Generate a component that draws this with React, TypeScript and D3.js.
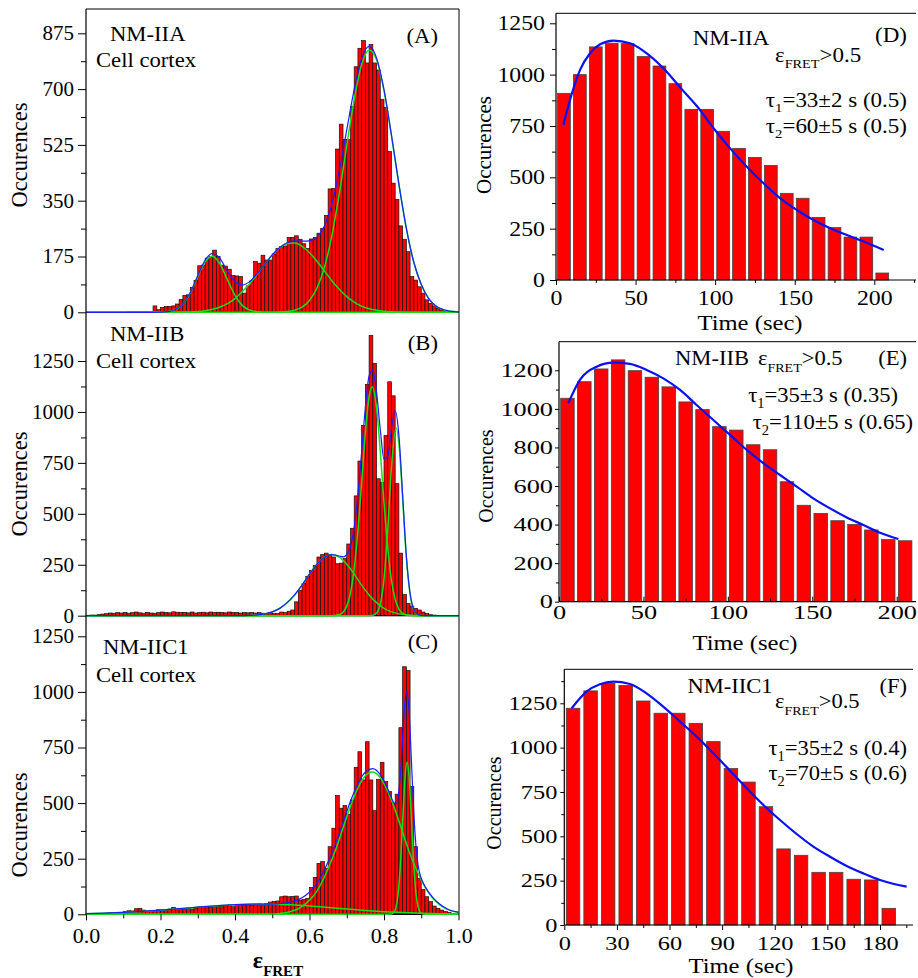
import React, { useEffect, useRef } from "react";
import * as d3 from "d3";

const SERIF = "'Liberation Serif', 'Times New Roman', Times, serif";

// ---- left column: FRET efficiency histograms (bin width 0.01) ----
const binWidth = 0.01;

const histA = [
  0, 0, 0, 0, 0, 0, 0, 0, 0, 0,
  0, 3, 3, 3, 3, 3, 3, 3, 20, 8,
  15, 18, 18, 20, 26, 40, 53, 55, 78, 100,
  146, 148, 170, 175, 195, 175, 148, 145, 135, 115,
  114, 112, 60, 83, 99, 159, 154, 179, 164, 164,
  183, 200, 206, 208, 235, 235, 240, 229, 215, 200,
  230, 235, 248, 263, 304, 387, 389, 512, 590, 542,
  542, 645, 770, 828, 852, 782, 840, 782, 760, 668,
  643, 504, 405, 354, 271, 229, 190, 112, 101, 80,
  60, 39, 28, 20, 13, 7, 4, 2, 2, 2,
];

const histB = [
  2, 3, 3, 5, 8, 10, 13, 12, 15, 13,
  16, 12, 15, 18, 14, 12, 16, 13, 12, 15,
  18, 16, 14, 19, 17, 15, 16, 14, 18, 13,
  15, 17, 14, 18, 16, 17, 15, 14, 18, 16,
  15, 13, 15, 14, 16, 13, 15, 12, 10, 14,
  12, 10, 18, 15, 22, 28, 68, 125, 158, 193,
  222, 247, 288, 300, 307, 300, 288, 255, 258, 280,
  352, 429, 588, 759, 934, 1135, 1376, 1238, 672, 653,
  884, 1148, 1079, 648, 307, 104, 60, 47, 36, 28,
  18, 11, 5, 3, 0, 0, 0, 0, 0, 0,
];

const histC = [
  2, 2, 3, 3, 4, 5, 7, 7, 9, 8,
  12, 16, 15, 25, 27, 19, 15, 18, 16, 22,
  20, 18, 24, 31, 27, 22, 25, 28, 24, 27,
  34, 30, 33, 31, 36, 37, 35, 40, 42, 34,
  40, 42, 42, 45, 41, 44, 47, 45, 49, 55,
  57, 60, 79, 82, 79, 80, 82, 64, 67, 72,
  121, 166, 229, 237, 207, 304, 387, 534, 477, 489,
  450, 514, 661, 731, 604, 776, 604, 466, 607, 683,
  597, 552, 500, 540, 839, 1113, 1096, 574, 304, 162,
  112, 79, 57, 37, 27, 19, 12, 9, 4, 2,
];

// fitted peaks (green) and their sum (blue)
const fitA1 = [[0, 0], [0.2, 0.5], [0.22, 2.3], [0.24, 8.7], [0.26, 26], [0.28, 61], [0.3, 112], [0.32, 159], [0.34, 176], [0.36, 151], [0.38, 101], [0.4, 53], [0.42, 21], [0.44, 6.8], [0.46, 1.7], [0.48, 0.3], [0.5, 0], [1, 0]];
const fitA2 = [[0, 0], [0.24, 0.3], [0.26, 0.6], [0.28, 1.3], [0.3, 2.6], [0.32, 5.1], [0.34, 9.4], [0.36, 16.6], [0.38, 27], [0.4, 43], [0.42, 65], [0.44, 90], [0.46, 120], [0.48, 151], [0.5, 180], [0.52, 202], [0.54, 216], [0.56, 217], [0.58, 207], [0.6, 187], [0.62, 160], [0.64, 130], [0.66, 99], [0.68, 72], [0.7, 49], [0.72, 32], [0.74, 19], [0.76, 11], [0.78, 6.1], [0.8, 3.2], [0.82, 1.6], [0.84, 0.7], [0.86, 0.3], [0.9, 0], [1, 0]];
const fitA3 = [[0, 0], [0.48, 0], [0.5, 0.2], [0.52, 0.8], [0.54, 2.4], [0.56, 6.5], [0.58, 16], [0.6, 37], [0.62, 76], [0.64, 141], [0.66, 240], [0.68, 372], [0.7, 523], [0.72, 667], [0.74, 777], [0.76, 823], [0.78, 792], [0.8, 695], [0.82, 554], [0.84, 401], [0.86, 263], [0.88, 157], [0.9, 87], [0.92, 43], [0.94, 19], [0.96, 7.8], [0.98, 3], [1, 1]];
const sumA = [[0, 0], [0.18, 0], [0.2, 0.5], [0.22, 2.4], [0.24, 9], [0.26, 26.6], [0.28, 62], [0.3, 115], [0.32, 164], [0.34, 185], [0.36, 168], [0.38, 128], [0.4, 96], [0.42, 86], [0.44, 97], [0.46, 122], [0.48, 151], [0.5, 180], [0.52, 203], [0.54, 218], [0.56, 224], [0.58, 223], [0.6, 224], [0.62, 236], [0.64, 271], [0.66, 339], [0.68, 444], [0.7, 572], [0.72, 699], [0.74, 796], [0.76, 834], [0.78, 798], [0.8, 698], [0.82, 556], [0.84, 402], [0.86, 263], [0.88, 157], [0.9, 87], [0.92, 43], [0.94, 19], [0.96, 8], [0.98, 3], [1, 1]];

const fitB1 = [[0, 0], [0.42, 0], [0.44, 1.6], [0.46, 4], [0.48, 8.9], [0.5, 19], [0.52, 36], [0.54, 64], [0.56, 102], [0.58, 150], [0.6, 204], [0.62, 252], [0.64, 287], [0.66, 300], [0.68, 287], [0.7, 252], [0.72, 204], [0.74, 150], [0.76, 102], [0.78, 64], [0.8, 36], [0.82, 19], [0.84, 8.9], [0.86, 4], [0.88, 1.6], [0.9, 0], [1, 0]];
const fitB2 = [[0, 0], [0.66, 0], [0.68, 5.5], [0.69, 17], [0.7, 47], [0.71, 111], [0.72, 231], [0.73, 417], [0.74, 654], [0.75, 898], [0.76, 1075], [0.768, 1124], [0.78, 1020], [0.79, 809], [0.8, 554], [0.81, 334], [0.82, 174], [0.83, 80], [0.84, 32], [0.85, 11], [0.86, 3.4], [0.88, 0], [1, 0]];
const fitB3 = [[0, 0], [0.76, 0], [0.77, 2.2], [0.78, 13], [0.79, 57], [0.8, 179], [0.81, 422], [0.82, 726], [0.8325, 921], [0.84, 844], [0.85, 576], [0.86, 286], [0.87, 106], [0.88, 28], [0.89, 5.6], [0.9, 0.7], [0.92, 0], [1, 0]];
const sumB = [[0, 0], [0.42, 0], [0.44, 1.6], [0.46, 4], [0.48, 9], [0.5, 19], [0.52, 36], [0.54, 64], [0.56, 102], [0.58, 150], [0.6, 204], [0.62, 252], [0.64, 287], [0.66, 300], [0.67, 297], [0.68, 293], [0.69, 289], [0.7, 299], [0.71, 340], [0.72, 435], [0.73, 593], [0.74, 804], [0.75, 1023], [0.76, 1177], [0.77, 1204], [0.78, 1097], [0.79, 914], [0.8, 769], [0.81, 782], [0.82, 919], [0.83, 1005], [0.84, 885], [0.85, 593], [0.86, 293], [0.87, 110], [0.88, 30], [0.89, 7], [0.9, 1], [0.92, 0], [1, 0]];

const fitC1 = [[0, 2.9], [0.05, 5.1], [0.1, 8.3], [0.15, 12.8], [0.2, 18.5], [0.25, 25.1], [0.3, 32], [0.35, 38.4], [0.4, 43.3], [0.45, 45.8], [0.5, 45.5], [0.55, 42.5], [0.6, 37.2], [0.65, 30.7], [0.7, 23.8], [0.75, 17.3], [0.8, 11.8], [0.85, 7.6], [0.9, 4.6], [0.95, 2.6], [1, 1.4]];
const fitC2 = [[0, 0], [0.5, 0], [0.53, 6], [0.55, 13], [0.57, 25], [0.59, 48], [0.61, 81], [0.63, 134], [0.65, 205], [0.67, 289], [0.69, 388], [0.71, 486], [0.73, 568], [0.75, 623], [0.768, 640], [0.79, 615], [0.81, 553], [0.83, 468], [0.85, 369], [0.87, 271], [0.89, 190], [0.91, 122], [0.93, 74], [0.95, 42], [0.97, 22], [0.99, 11], [1, 8]];
const fitC3 = [[0, 0], [0.8, 0], [0.82, 1.5], [0.826, 7.6], [0.832, 30], [0.838, 93], [0.844, 222], [0.85, 415], [0.856, 605], [0.862, 685], [0.868, 605], [0.874, 415], [0.88, 222], [0.886, 93], [0.892, 30], [0.898, 7.6], [0.904, 1.5], [0.92, 0], [1, 0]];
const sumC = [[0, 2.9], [0.05, 5.1], [0.1, 8.3], [0.15, 12.8], [0.2, 18.5], [0.25, 25.1], [0.3, 32], [0.35, 38.4], [0.4, 43.3], [0.45, 45.8], [0.5, 46], [0.53, 50], [0.55, 56], [0.57, 66], [0.59, 86], [0.61, 117], [0.63, 167], [0.65, 236], [0.67, 317], [0.69, 413], [0.71, 508], [0.73, 588], [0.75, 640], [0.77, 655], [0.79, 628], [0.81, 564], [0.82, 524], [0.826, 502], [0.832, 496], [0.838, 530], [0.844, 628], [0.85, 792], [0.856, 951], [0.862, 1002], [0.868, 892], [0.874, 675], [0.88, 456], [0.886, 303], [0.892, 216], [0.898, 171], [0.904, 146], [0.91, 126], [0.93, 77], [0.95, 45], [0.97, 24], [0.99, 12.5], [1, 9.4]];

// ---- right column: dwell time histograms (10 s bins) ----
const timeBinsD = [5, 15, 25, 35, 45, 55, 65, 75, 85, 95, 105, 115, 125, 135, 145, 155, 165, 175, 185, 195, 205];
const countsD = [909, 1000, 1135, 1153, 1151, 1088, 1042, 956, 831, 831, 724, 641, 597, 558, 422, 398, 305, 255, 209, 209, 34];
const fitD = [[4.6, 755], [8.8, 877], [15.1, 1023], [21.4, 1104], [27.7, 1148], [36.1, 1166], [46.5, 1153], [57, 1104], [67.5, 1031], [78, 938], [88.5, 847], [99, 739], [109.4, 641], [119.9, 552], [130.4, 471], [140.9, 398], [151.4, 341], [161.8, 292], [172.3, 252], [182.8, 219], [193.3, 187], [205.9, 146]];

const timeBinsE = [5, 15, 25, 35, 45, 55, 65, 75, 85, 95, 105, 115, 125, 135, 145, 155, 165, 175, 185, 195, 205];
const countsE = [1055, 1141, 1207, 1254, 1198, 1164, 1114, 1036, 996, 908, 890, 814, 788, 622, 500, 458, 420, 401, 372, 322, 316];
const fitE = [[5.5, 1029], [12.4, 1150], [22.3, 1219], [32.2, 1240], [42, 1233], [51.9, 1202], [61.8, 1158], [71.7, 1098], [81.5, 1020], [91.4, 942], [101.3, 865], [111.2, 787], [121, 718], [130.9, 657], [140.8, 597], [150.6, 536], [160.5, 484], [170.4, 437], [180.3, 398], [190.1, 358], [201, 325]];

const timeBinsF = [5, 15, 25, 35, 45, 55, 65, 75, 85, 95, 105, 115, 125, 135, 145, 155, 165, 175, 185];
const countsF = [1222, 1320, 1363, 1350, 1263, 1194, 1194, 1137, 1034, 882, 806, 667, 429, 393, 297, 297, 258, 254, 94];
const fitF = [[4.2, 1222], [12.7, 1316], [20.3, 1357], [27.9, 1372], [37.4, 1359], [46.9, 1306], [56.4, 1231], [66, 1147], [75.5, 1062], [85, 968], [94.5, 870], [104, 771], [113.5, 677], [123, 592], [132.5, 513], [142, 442], [151.5, 385], [161, 333], [170.5, 291], [180, 254], [195.2, 216]];

type Sel = d3.Selection<any, unknown, null, undefined>;
type Piece = [string, boolean?];

function addText(g: Sel, x: number, y: number, content: string | Piece[], o: any = {}) {
  const size = o.size ?? 22;
  const sx = o.sx ?? 1;
  const t = g
    .append("text")
    .attr("transform", `translate(${x},${y}) scale(${sx},1)${o.rotate ? " rotate(-90)" : ""}`)
    .attr("font-family", SERIF)
    .attr("font-size", size)
    .attr("font-weight", o.weight ?? "normal")
    .attr("text-anchor", o.anchor ?? "start")
    .attr("fill", "#000");
  if (typeof content === "string") {
    t.text(content);
    return;
  }
  const shift = size * (o.shift ?? 0.32);
  let down = false;
  content.forEach(([s, sub]) => {
    const sp = t.append("tspan").text(s);
    if (sub) {
      sp.attr("font-size", o.subSize ?? size * 0.64).attr("dy", down ? 0 : shift);
      down = true;
    } else {
      sp.attr("dy", down ? -shift : 0);
      down = false;
    }
  });
}

function yAxis(g: Sel, y: any, x0: number, majors: number[], minors: number[], o: any) {
  const ax = g
    .append("g")
    .attr("transform", `translate(${x0},0)`)
    .call(d3.axisLeft(y).tickValues(majors).tickSize(o.len).tickPadding(o.pad).tickSizeOuter(0).tickFormat(d3.format("d")));
  ax.select(".domain").remove();
  ax.selectAll("line").attr("stroke", "#000");
  ax.selectAll("text")
    .attr("font-family", SERIF)
    .attr("font-size", o.size)
    .attr("fill", "#000")
    .attr("x", -(o.len + o.pad) / o.sx)
    .attr("transform", `scale(${o.sx},1)`);
  const mn = g
    .append("g")
    .attr("transform", `translate(${x0},0)`)
    .call(d3.axisLeft(y).tickValues(minors).tickSize(o.minor).tickSizeOuter(0).tickFormat(() => ""));
  mn.select(".domain").remove();
  mn.selectAll("line").attr("stroke", "#000");
}

function xAxis(g: Sel, x: any, y0: number, majors: number[], minors: number[], o: any) {
  const ax = g
    .append("g")
    .attr("transform", `translate(0,${y0})`)
    .call(d3.axisBottom(x).tickValues(majors).tickSize(o.len).tickPadding(o.pad).tickSizeOuter(0).tickFormat(d3.format(o.fmt ?? "d")));
  ax.select(".domain").remove();
  ax.selectAll("line").attr("stroke", "#000");
  ax.selectAll("text")
    .attr("font-family", SERIF)
    .attr("font-size", o.size)
    .attr("fill", "#000")
    .attr("transform", `scale(${o.sx},1)`);
  const mn = g
    .append("g")
    .attr("transform", `translate(0,${y0})`)
    .call(d3.axisBottom(x).tickValues(minors).tickSize(o.minor).tickSizeOuter(0).tickFormat(() => ""));
  mn.select(".domain").remove();
  mn.selectAll("line").attr("stroke", "#000");
}

function drawCurve(g: Sel, x: any, y: any, pts: number[][], color: string, w: number) {
  const line = d3
    .line<number[]>()
    .x((d) => x(d[0]))
    .y((d) => y(d[1]))
    .curve(d3.curveMonotoneX);
  g.append("path").attr("d", line(pts)).attr("fill", "none").attr("stroke", color).attr("stroke-width", w);
}

const GREEN = "#14e014";
const BLUE = "#1c1cff";

export default function App() {
  const ref = useRef<SVGSVGElement>(null);

  useEffect(() => {
    const svg = d3.select(ref.current);
    svg.selectAll("*").remove();
    const root = svg.append("g");

    // ---------- left column ----------
    const xL = d3.scaleLinear().domain([0, 1]).range([86, 458.5]);
    const leftPanels = [
      { hist: histA, fits: [fitA1, fitA2, fitA3], sum: sumA, y: d3.scaleLinear().domain([0, 875]).range([312.3, 33.3]), step: 175, max: 875, name: "NM-IIA", tag: "(A)", nameY: 41, cortexY: 67, tagY: 43, ylabY: 155, nameX: 110 },
      { hist: histB, fits: [fitB1, fitB2, fitB3], sum: sumB, y: d3.scaleLinear().domain([0, 1250]).range([615.7, 361]), step: 250, max: 1250, name: "NM-IIB", tag: "(B)", nameY: 341, cortexY: 368, tagY: 350, ylabY: 484, nameX: 110 },
      { hist: histC, fits: [fitC1, fitC2, fitC3], sum: sumC, y: d3.scaleLinear().domain([0, 1250]).range([914.3, 636.3]), step: 250, max: 1250, name: "NM-IIC1", tag: "(C)", nameY: 654, cortexY: 682, tagY: 649, ylabY: 825, nameX: 103 },
    ];

    leftPanels.forEach((p) => {
      const g = root.append("g");
      const y = p.y;
      g.selectAll("rect")
        .data(p.hist.map((v, i) => ({ v, i })).filter((d) => d.v > 0))
        .enter()
        .append("rect")
        .attr("x", (d) => xL(d.i * binWidth))
        .attr("width", xL(binWidth) - xL(0))
        .attr("y", (d) => y(d.v))
        .attr("height", (d) => y(0) - y(d.v))
        .attr("fill", "#ff0000")
        .attr("stroke", "#111")
        .attr("stroke-width", 0.7);

      const majors = d3.range(0, p.max + 1, p.step);
      const minors = d3.range(p.step / 2, p.max, p.step);
      yAxis(g, y, 86, majors, minors, { len: 8, pad: 4, minor: 5, size: 20, sx: 1.05 });

      // bottom line of the panel
      g.append("line").attr("x1", 86).attr("x2", 459).attr("y1", y(0)).attr("y2", y(0)).attr("stroke", "#000").attr("stroke-width", 1.2);

      p.fits.forEach((f) => drawCurve(g, xL, y, f, GREEN, 1.5));
      drawCurve(g, xL, y, p.sum, BLUE, 1.2);

      addText(g, p.nameX, p.nameY, p.name, { size: 22, sx: 1.03 });
      addText(g, 96, p.cortexY, "Cell cortex", { size: 22, sx: 1.03 });
      addText(g, 438, p.tagY, p.tag, { size: 22, sx: 1.03, anchor: "end" });
      addText(g, 26.5, p.ylabY, "Occurences", { size: 22.5, rotate: true, anchor: "middle" });
    });

    // left frame: axis, top and right border
    root.append("line").attr("x1", 86).attr("x2", 86).attr("y1", 9).attr("y2", 914.3).attr("stroke", "#000").attr("stroke-width", 1.2);
    root.append("line").attr("x1", 86).attr("x2", 459).attr("y1", 9).attr("y2", 9).attr("stroke", "#000").attr("stroke-width", 1);
    root.append("line").attr("x1", 459).attr("x2", 459).attr("y1", 9).attr("y2", 914.3).attr("stroke", "#000").attr("stroke-width", 1);

    xAxis(root, xL, 914.3, d3.range(0, 1.01, 0.2), d3.range(0.1, 1, 0.2), { len: 6, pad: 8.8, minor: 4, size: 20, sx: 1.1, fmt: ".1f" });
    addText(root, 278, 968, [["ε"], ["FRET", true]], { size: 24, weight: "bold", anchor: "middle", subSize: 15 });

    // ---------- right column ----------
    const rightPanels = [
      {
        bins: timeBinsD, counts: countsD, fit: fitD, barW: 8,
        x: d3.scaleLinear().domain([0, 200]).range([556, 874.3]),
        y: d3.scaleLinear().domain([0, 1250]).range([280, 23.3]),
        top: 13.3, right: 916,
        yMaj: d3.range(0, 1251, 250), yMin: d3.range(125, 1250, 250),
        xMaj: d3.range(0, 201, 50), xMin: d3.range(25, 226, 50),
        yo: { len: 6, pad: 5, minor: 4, size: 20.7, sx: 1.15 },
        xo: { len: 5, pad: 5.3, minor: 3, size: 20.7, sx: 1.15 },
        ylab: [491, 145, 21], xlab: [750, 330],
        ann: { size: 20, sx: 1.15, name: "NM-IIA", nameX: 731, nameY: 45, tag: "(D)", tagY: 42, epsX: 775, epsY: 62, t1: "=33±2 s (0.5)", t2: "=60±5 s (0.5)", tX1: 907, tX2: 907, tY1: 107, tY2: 133 },
      },
      {
        bins: timeBinsE, counts: countsE, fit: fitE, barW: 8,
        x: d3.scaleLinear().domain([0, 200]).range([559, 896.7]),
        y: d3.scaleLinear().domain([0, 1200]).range([601.7, 370.3]),
        top: 341.7, right: 916,
        yMaj: d3.range(0, 1201, 200), yMin: d3.range(100, 1300, 200),
        xMaj: d3.range(0, 201, 50), xMin: d3.range(25, 210, 50),
        yo: { len: 4, pad: 2, minor: 3, size: 19.5, sx: 1.35 },
        xo: { len: -5, pad: 3, minor: -3, size: 19.5, sx: 1.35 },
        ylab: [493, 476, 20], xlab: [745, 650],
        ann: { size: 21.5, sx: 1.05, name: "NM-IIB", nameX: 712, nameY: 365, tag: "(E)", tagY: 365, epsX: 758, epsY: 365, t1: "=35±3 s (0.35)", t2: "=110±5 s (0.65)", tX1: 898, tX2: 913, tY1: 402, tY2: 429 },
      },
      {
        bins: timeBinsF, counts: countsF, fit: fitF, barW: 7.7,
        x: d3.scaleLinear().domain([0, 180]).range([564.3, 880]),
        y: d3.scaleLinear().domain([0, 1250]).range([925, 703.3]),
        top: 669.3, right: 913,
        yMaj: d3.range(0, 1251, 250), yMin: d3.range(125, 1400, 250),
        xMaj: d3.range(0, 181, 30), xMin: d3.range(15, 200, 30),
        yo: { len: 4, pad: 3, minor: 3, size: 19.5, sx: 1.25 },
        xo: { len: 5, pad: 6, minor: 3, size: 19.5, sx: 1.25 },
        ylab: [501, 803, 20], xlab: [741, 973],
        ann: { size: 21.5, sx: 1.05, name: "NM-IIC1", nameX: 730, nameY: 693, tag: "(F)", tagY: 693, epsX: 775, epsY: 708, t1: "=35±2 s (0.4)", t2: "=70±5 s (0.6)", tX1: 907, tX2: 907, tY1: 755, tY2: 780 },
      },
    ];

    rightPanels.forEach((p) => {
      const g = root.append("g");
      const { x, y } = p;
      g.selectAll("rect")
        .data(p.bins.map((t, i) => ({ t, v: p.counts[i] })))
        .enter()
        .append("rect")
        .attr("x", (d) => x(d.t - p.barW / 2))
        .attr("width", x(p.barW) - x(0))
        .attr("y", (d) => y(d.v))
        .attr("height", (d) => y(0) - y(d.v))
        .attr("fill", "#ff0000")
        .attr("stroke", "#444")
        .attr("stroke-width", 0.8);

      yAxis(g, y, x(0), p.yMaj, p.yMin, p.yo);
      xAxis(g, x, y(0), p.xMaj, p.xMin, p.xo);

      g.append("line").attr("x1", x(0)).attr("x2", x(0)).attr("y1", p.top).attr("y2", y(0)).attr("stroke", "#000").attr("stroke-width", 1.2);
      g.append("line").attr("x1", x(0)).attr("x2", p.right).attr("y1", y(0)).attr("y2", y(0)).attr("stroke", "#000").attr("stroke-width", 1.2);
      g.append("line").attr("x1", x(0)).attr("x2", p.right).attr("y1", p.top).attr("y2", p.top).attr("stroke", "#000").attr("stroke-width", 1);

      drawCurve(g, x, y, p.fit, "#0a10f0", 2.2);

      const a = p.ann;
      addText(g, p.ylab[0], p.ylab[1], "Occurences", { size: p.ylab[2], rotate: true, anchor: "middle" });
      addText(g, p.xlab[0], p.xlab[1], "Time (sec)", { size: 22, sx: 1.12, anchor: "middle" });
      addText(g, a.nameX, a.nameY, a.name, { size: a.size, sx: a.sx, anchor: "middle" });
      addText(g, 907, a.tagY, a.tag, { size: a.size, sx: a.sx, anchor: "end" });
      addText(g, a.epsX, a.epsY, [["ε"], ["FRET", true], [">0.5"]], { size: a.size, sx: a.sx, subSize: a.size * 0.62 });
      addText(g, a.tX1, a.tY1, [["τ"], ["1", true], [a.t1]], { size: a.size, sx: a.sx, anchor: "end", shift: 0.26 });
      addText(g, a.tX2, a.tY2, [["τ"], ["2", true], [a.t2]], { size: a.size, sx: a.sx, anchor: "end", shift: 0.26 });
    });
  }, []);

  return (
    <div style={{ position: "absolute", left: 0, top: 0 }}>
      <svg ref={ref} width={918} height={978} style={{ display: "block", background: "#fff" }} />
    </div>
  );
}
